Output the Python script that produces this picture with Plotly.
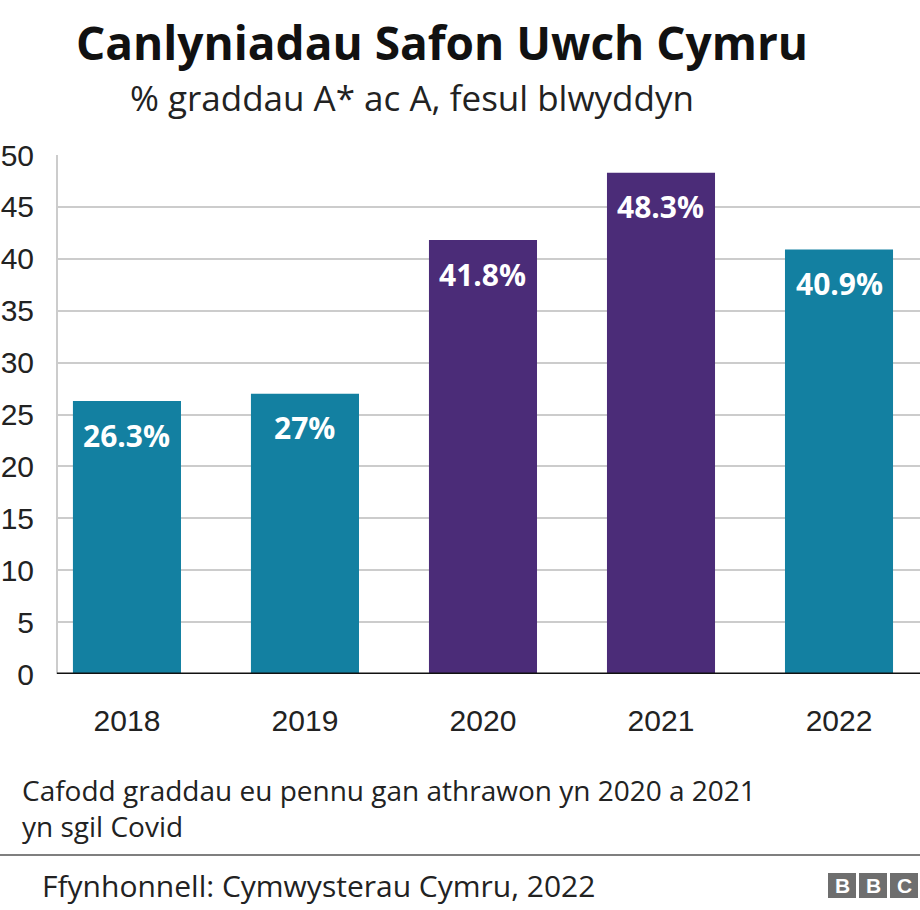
import plotly.graph_objects as go

years = ["2018", "2019", "2020", "2021", "2022"]
values = [26.3, 27.0, 41.8, 48.3, 40.9]
labels = ["26.3%", "27%", "41.8%", "48.3%", "40.9%"]
teacher_assessed = [False, False, True, True, False]
y_ticks = [0, 5, 10, 15, 20, 25, 30, 35, 40, 45, 50]

TEAL = "#1380a1"
PURPLE = "#4b2c78"
colors = [PURPLE if t else TEAL for t in teacher_assessed]

W, H = 920, 910
L, R, T, B = 57, 0, 155, 236
PW, PH = W - L - R, H - T - B


def px(x):
    return (x - L) / PW


def py(y):
    return (H - B - y) / PH


fig = go.Figure()
fig.add_trace(go.Bar(
    x=years, y=values, marker_color=colors, marker_line_width=0,
    width=0.607, hoverinfo="skip",
))

for i, (v, lab) in enumerate(zip(values, labels)):
    fig.add_annotation(x=i, y=v, xref="x", yref="y", text=f"<b>{lab}</b>",
                       showarrow=False, yanchor="middle", yshift=-34,
                       font=dict(family="Open Sans", size=30, color="white"))

# baseline
fig.add_shape(type="line", xref="paper", yref="y", x0=0, x1=1, y0=0, y1=0,
              line=dict(color="#111111", width=3))
# left axis line
fig.add_shape(type="line", xref="paper", yref="paper", x0=0, x1=0, y0=0, y1=1,
              line=dict(color="#cccccc", width=2), layer="below")

# title & subtitle
fig.add_annotation(xref="paper", yref="paper", x=px(442), y=py(42),
                   text="<b>Canlyniadau Safon Uwch Cymru</b>", showarrow=False,
                   xanchor="center", yanchor="middle",
                   font=dict(family="Open Sans", size=46, color="#111111"))
fig.add_annotation(xref="paper", yref="paper", x=px(128), y=py(97),
                   text="% graddau A* ac A, fesul blwyddyn", showarrow=False,
                   xanchor="left", yanchor="middle",
                   font=dict(family="Open Sans", size=35, color="#222222"))
# footnote (two lines)
fig.add_annotation(xref="paper", yref="paper", x=px(20), y=py(790),
                   text="Cafodd graddau eu pennu gan athrawon yn 2020 a 2021",
                   showarrow=False, xanchor="left", yanchor="middle", align="left",
                   font=dict(family="Open Sans", size=28, color="#222222"))
fig.add_annotation(xref="paper", yref="paper", x=px(20), y=py(826),
                   text="yn sgil Covid",
                   showarrow=False, xanchor="left", yanchor="middle", align="left",
                   font=dict(family="Open Sans", size=28, color="#222222"))
# separator line
fig.add_shape(type="line", xref="paper", yref="paper", x0=px(0), x1=px(920),
              y0=py(855), y1=py(855), line=dict(color="#7f7f7f", width=2))
# source
fig.add_annotation(xref="paper", yref="paper", x=px(40), y=py(885),
                   text="Ffynhonnell: Cymwysterau Cymru, 2022", showarrow=False,
                   xanchor="left", yanchor="middle",
                   font=dict(family="Open Sans", size=30, color="#222222"))
# BBC logo
for i, letter in enumerate("BBC"):
    x0 = 828 + i * 31
    fig.add_shape(type="rect", xref="paper", yref="paper",
                  x0=px(x0), x1=px(x0 + 28), y0=py(873), y1=py(898),
                  fillcolor="#6e6e6e", line_width=0)
    fig.add_annotation(xref="paper", yref="paper", x=px(x0 + 14), y=py(885.5),
                       text=f"<b>{letter}</b>", showarrow=False,
                       xanchor="center", yanchor="middle",
                       font=dict(family="Liberation Sans", size=21, color="white"))

fig.update_layout(
    width=W, height=H,
    margin=dict(l=L, r=R, t=T, b=B, pad=0),
    paper_bgcolor="white", plot_bgcolor="white",
    showlegend=False,
    font=dict(family="Liberation Sans", color="#222222"),
    xaxis=dict(type="category", range=[-0.393, 4.455], showgrid=False,
               showline=False, ticks="", zeroline=False,
               tickfont=dict(size=30, color="#222222"), ticklabelstandoff=26),
    yaxis=dict(range=[0, 50], tickvals=y_ticks, showgrid=True,
               gridcolor="#cccccc", gridwidth=2, zeroline=False, showline=False,
               ticks="", tickfont=dict(size=30, color="#222222"),
               ticklabelstandoff=22),
)

fig.write_html("out.html")
